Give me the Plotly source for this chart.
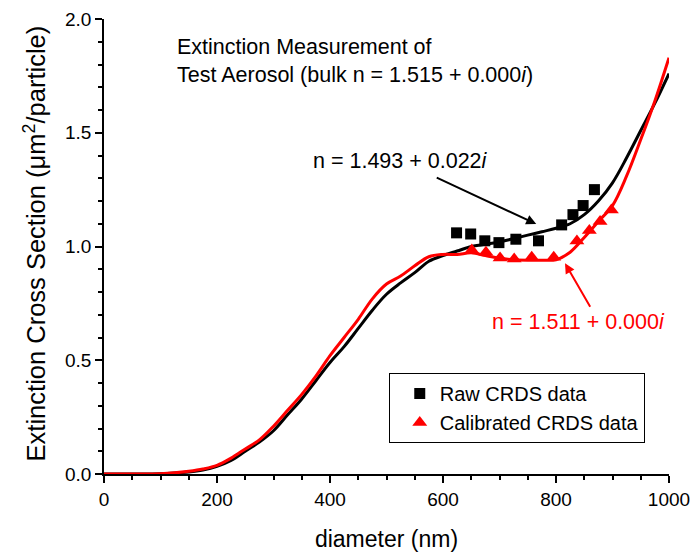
import plotly.graph_objects as go

# Calculated curves (diameter nm -> extinction cross section)
curve_d = [0, 50, 100, 125, 150, 175, 200, 225, 250, 275, 300, 325, 350, 375, 400,
           425, 450, 475, 500, 525, 550, 575, 600, 625, 650, 675, 700, 725, 750,
           775, 800, 825, 850, 875, 900, 925, 950, 975, 1000]
black_curve = [0, 0, 0.001, 0.004, 0.009, 0.018, 0.034, 0.06, 0.10, 0.14, 0.19, 0.26,
               0.33, 0.41, 0.49, 0.56, 0.64, 0.72, 0.79, 0.84, 0.885, 0.935, 0.96,
               0.98, 1.0, 1.01, 1.02, 1.035, 1.05, 1.065, 1.08, 1.10, 1.14, 1.20,
               1.28, 1.39, 1.51, 1.63, 1.76]
red_curve = [0, 0, 0.001, 0.005, 0.012, 0.022, 0.038, 0.07, 0.11, 0.15, 0.21, 0.28,
             0.35, 0.43, 0.52, 0.60, 0.68, 0.77, 0.835, 0.87, 0.915, 0.955, 0.965,
             0.965, 0.972, 0.96, 0.948, 0.942, 0.94, 0.94, 0.942, 0.975, 1.04, 1.11,
             1.18, 1.31, 1.47, 1.64, 1.83]

# Measured data
raw_d = [624, 649, 674, 699, 729, 769, 810, 830, 848, 868]
raw_v = [1.060, 1.055, 1.025, 1.017, 1.032, 1.025, 1.095, 1.14, 1.18, 1.25]
cal_d = [651, 676, 701, 726, 757, 796, 837, 859, 878, 898]
cal_v = [0.985, 0.975, 0.95, 0.945, 0.953, 0.953, 1.024, 1.07, 1.11, 1.16]

FONT = "Liberation Sans, Arial, sans-serif"

fig = go.Figure()
fig.add_trace(go.Scatter(x=curve_d, y=black_curve, mode="lines", line=dict(color="black", width=3, shape="spline"),
                         showlegend=False))
fig.add_trace(go.Scatter(x=curve_d, y=red_curve, mode="lines", line=dict(color="red", width=3, shape="spline"),
                         showlegend=False))
fig.add_trace(go.Scatter(x=raw_d, y=raw_v, mode="markers", name="Raw CRDS data",
                         marker=dict(symbol="square", color="black", size=11)))
fig.add_trace(go.Scatter(x=cal_d, y=cal_v, mode="markers", name="Calibrated CRDS data",
                         marker=dict(symbol="triangle-up", color="red", size=13)))

fig.add_annotation(x=0.126, y=1.0, xref="paper", yref="paper", xanchor="left", yanchor="top",
                   text="Extinction Measurement of<br>Test Aerosol (bulk n = 1.515 + 0.000<i>i</i>)",
                   showarrow=False, align="left", font=dict(size=21.5, color="black", family=FONT),
                   yshift=-14)
# y-axis title as rotated annotation
fig.add_annotation(x=-0.122, y=0.507, xref="paper", yref="paper", xanchor="center", yanchor="middle",
                   text="Extinction Cross Section (μm<sup>2</sup>/particle)", textangle=-90,
                   showarrow=False, font=dict(size=25.5, color="black", family=FONT))
# arrows
fig.add_annotation(x=765, y=1.099, xref="x", yref="y", ax=-101, ay=-47, text="",
                   showarrow=True, arrowhead=2, arrowsize=1, arrowwidth=2, arrowcolor="black")
fig.add_annotation(x=816, y=0.926, xref="x", yref="y", ax=26, ay=45, text="",
                   showarrow=True, arrowhead=2, arrowsize=1, arrowwidth=2, arrowcolor="red")
fig.add_annotation(x=367, y=1.377, xref="x", yref="y", xanchor="left", yanchor="middle",
                   text="n = 1.493 + 0.022<i>i</i>", showarrow=False,
                   font=dict(size=21.5, color="black", family=FONT))
fig.add_annotation(x=683, y=0.669, xref="x", yref="y", xanchor="left", yanchor="middle",
                   text="n = 1.511 + 0.000<i>i</i>", showarrow=False,
                   font=dict(size=21.5, color="red", family=FONT))

axis_common = dict(showline=True, linecolor="black", linewidth=1.5, ticks="outside",
                   ticklen=7, tickwidth=1.5, tickcolor="black", showgrid=False, zeroline=False,
                   tickfont=dict(size=19, color="black", family=FONT), mirror=False,
                   automargin=False)
fig.update_xaxes(range=[0, 1000], tick0=0, dtick=200,
                 minor=dict(dtick=50, ticks="outside", ticklen=4, tickwidth=1.5, tickcolor="black"),
                 title=dict(text="diameter (nm)", font=dict(size=23, color="black", family=FONT), standoff=24),
                 **axis_common)
fig.update_yaxes(range=[0, 2.0], tick0=0, dtick=0.5, tickformat=".1f",
                 minor=dict(dtick=0.1, ticks="outside", ticklen=4, tickwidth=1.5, tickcolor="black"),
                 **axis_common)

fig.update_layout(width=691, height=552, margin=dict(l=104, r=22, t=19, b=78),
                  plot_bgcolor="white", paper_bgcolor="white",
                  font=dict(family=FONT, color="black"),
                  legend=dict(x=0.504, y=0.222, xanchor="left", yanchor="top",
                              bordercolor="black", borderwidth=1, bgcolor="white",
                              font=dict(size=20, color="black", family=FONT),
                              itemwidth=30, tracegroupgap=0, indentation=10))
fig.write_html("out.html")
